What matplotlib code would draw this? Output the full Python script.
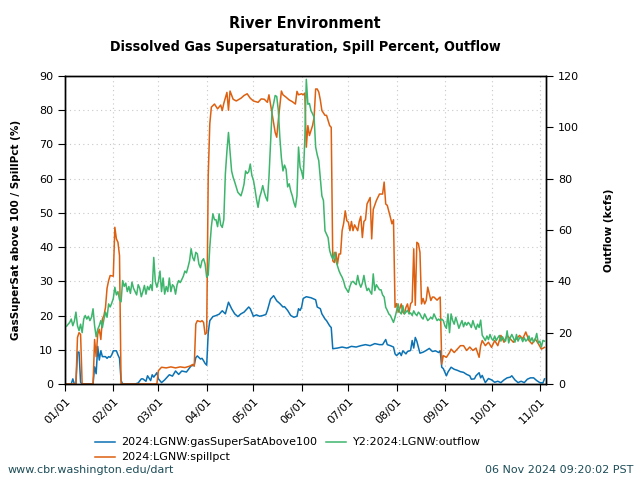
import numpy as np
import pandas as pd
import matplotlib
matplotlib.use('Agg')
import matplotlib.pyplot as plt
import matplotlib.dates as mdates

# days since 2024-01-01 and values
gas_days = [0, 4, 5, 6, 7, 8, 9, 10, 11, 18, 19, 20, 21, 22, 23, 24, 26, 27, 28, 29, 30, 31, 33, 34, 35, 36, 37, 45, 47, 49, 50,
            52, 53, 55, 56, 57, 59, 60, 62, 64, 67, 69, 71, 73, 75, 78, 81, 83, 84, 85, 87, 88, 89, 90, 91, 92, 93, 95, 97, 99,
            101, 103, 105, 107, 109, 111, 113, 115, 116, 118, 119, 121, 123, 125, 127, 129, 130, 132, 134, 136, 138, 140, 141,
            143, 145, 147, 149, 150, 151, 152, 153, 155, 158, 160, 161, 162, 164, 165, 167, 168, 170, 171, 172, 175, 178, 181,
            184, 187, 190, 193, 196, 199, 202, 204, 206, 207, 209, 211, 212, 213, 215, 216, 217, 219, 220, 222, 223, 224, 225,
            226, 228, 230, 232, 234, 236, 238, 240, 241, 242, 243, 245, 246, 248, 250, 252, 254, 256, 258, 260, 261, 263, 264,
            266, 267, 268, 270, 272, 274, 276, 278, 280, 282, 284, 286, 287, 289, 291, 293, 295, 297, 299, 301, 303, 305, 307, 308]
gas_vals = [0, 0, 1.5, 0, 0, 9.3, 9.3, 0.5, 0, 0, 5, 3, 11, 7, 9.7, 8, 8, 7.5, 8, 7.8, 8.5, 9.7, 9.7, 8.5, 7.5, 1, 0, 0, 0.3, 1.5, 1.5,
            0.8, 2.4, 1, 2.7, 2, 3.3, 1.5, 0.4, 1.2, 2.7, 2.3, 3.8, 2.8, 3.8, 3.5, 5.3, 5.5, 7.7, 8.2, 7.3, 7.5, 6.8, 6, 5.5, 15, 18.5, 19.7, 20, 20.4,
            21.4, 20.5, 23.9, 22, 20.5, 19.7, 20.5, 21, 21.5, 22.5, 22, 19.8, 20.2, 19.8, 20, 20.3, 21.5, 24.8, 25.8, 24.3, 23.5, 22.5, 22.6,
            21.5, 20, 19.5, 19.8, 22, 21.5, 22.5, 25, 25.5, 25.2, 24.8, 24.6, 22.5, 22, 20.5, 19, 18.5, 17, 16.5, 10.3, 10.5, 10.8, 10.5,
            11, 10.8, 11.2, 11.5, 11.2, 11.8, 11.5, 11.5, 13, 11.5, 11.2, 10.8, 8.8, 8.3, 9.2, 8.3, 9.7, 8.8, 9.5, 9.8, 12.7, 10.5, 13.6,
            12.5, 9, 9.3, 9.8, 10.4, 9.5, 9.7, 9.2, 9.7, 4.9, 4.5, 2.4, 3.5, 4.9, 4.3, 4, 3.6, 3.4, 2.8, 2.4, 1.4, 1.5, 2.4,
            3.3, 1.8, 2.5, 0.4, 1.6, 1.2, 0.5, 0.8, 0.4, 1.2, 1.8, 2, 2.4, 1.2, 0.4, 0.8, 0.4, 1.4, 1.8, 1.8, 1, 0.4, 0.3, 1.5]

spill_days = [0, 7, 8, 9, 10, 11, 18, 19, 20, 21, 22, 23, 24, 25, 26, 27, 28, 29, 31, 32, 33, 34, 35, 36, 59, 60, 62, 65, 68, 71, 74,
              77, 80, 82, 83, 84, 85, 87, 88, 89, 90, 91, 92, 93, 94, 96, 98, 100, 101, 102, 104, 105, 106, 108, 110, 113, 115, 117,
              119, 121, 124, 126, 128, 130, 131, 133, 135, 136, 137, 139, 140, 142, 144, 146, 148, 149, 150, 152, 153, 154, 155, 156,
              157, 158, 159, 160, 161, 162, 163, 164, 165, 167, 168, 169, 170, 171, 172, 173, 174, 175, 176, 177, 178, 179, 180, 181,
              182, 183, 184, 185, 186, 188, 189, 190, 191, 192, 193, 194, 196, 197, 198, 200, 202, 204, 205, 206, 207, 209, 210, 211,
              212, 213, 214, 215, 216, 217, 218, 219, 220, 221, 222, 223, 224, 225, 226, 227, 228, 229, 230, 231, 232, 233, 235, 236,
              237, 239, 240, 241, 242, 243, 245, 247, 248, 250, 252, 254, 256, 258, 260, 262, 264, 266, 267, 268, 270, 272, 274, 276,
              278, 280, 282, 284, 286, 288, 290, 292, 294, 296, 298, 300, 302, 304, 306, 308]
spill_vals = [0, 0, 13.6, 15, 14.5, 0, 0, 13, 8, 14.5, 16, 13, 19, 20, 22.4, 28, 30.2, 31.7, 31.5, 45.8, 42.4, 41.4, 37.5, 0, 0, 3.9, 4.9, 4.7, 5, 4.7, 5,
              4.8, 5.2, 5.7, 5.2, 17.5, 18.5, 18.2, 18.5, 18, 14.5, 15, 61, 76, 80.9, 81.8, 80.4, 81.5, 79.9, 82, 85.2, 80, 85.6, 83.2, 82.7, 83.5, 84.3, 84.8,
              83.5, 82.7, 82.3, 83.3, 83.2, 82.3, 84.5, 79, 73.5, 72.1, 77, 85.6, 84.5, 83.8, 83, 82.5, 81.8, 85.5, 84.5, 84.8, 84.5, 85, 69.2, 75.5,
              72.6, 74, 75.5, 77.9, 86.2, 86.2, 85.3, 83, 79.9, 78.5, 78.5, 77, 75.5, 75, 36, 35.5, 38.5, 35, 38, 38, 44.8, 47, 50.6, 47.7,
              47.3, 44.8, 47.5, 44.8, 46.5, 44.8, 47.5, 49, 42.8, 47.5, 48, 52.6, 54.5, 42.4, 51, 53.6, 55.5, 55.5, 59, 52.6, 52.2, 48.7, 46.8, 48,
              22.4, 23.5, 21, 22, 23.4, 21, 20.5, 22.4, 23.4, 20.8, 23.5, 24, 39.5, 23, 41.4, 41, 38.5, 23.4, 25, 23.4, 24.4, 28.3, 24.4, 25.4,
              25.4, 24.5, 25, 25.4, 5.8, 8.3, 7.8, 9.2, 10.2, 9.2, 10.2, 11.2, 11.2, 9.8, 10.8, 9.8, 10.5, 7.8, 11.2, 12.7, 11.2, 12.2, 10.7, 12.7,
              11.2, 14.2, 12.2, 14.2, 13.2, 12.2, 13.2, 14.2, 13.2, 15.2, 12.7, 11.7, 13.2, 11.8, 10.2, 10.7]

# outflow (kcfs), one value per day from 2024-01-01
outflow_kcfs = [22.3, 22.5, 23.3, 24.0, 25.3, 22.7, 24.5, 28.0, 22.7, 20.8, 23.3, 20.0, 25.3, 26.7, 25.3, 26.4, 24.7, 26.0, 29.3, 22.7,
                18.4, 21.3, 22.7, 24.7, 22.0, 25.3, 28.0, 26.0, 31.2, 30.0, 31.5, 33.3, 37.7, 34.7, 36.0, 32.8, 32.0, 40.3, 38.0, 39.3,
                36.0, 38.0, 35.3, 39.7, 37.3, 36.0, 34.7, 38.7, 37.3, 34.0, 36.0, 38.4, 35.0, 38.0, 36.7, 38.7, 36.4, 49.3, 40.0, 37.7,
                40.0, 44.0, 36.0, 41.3, 35.0, 38.0, 36.0, 41.3, 36.0, 38.7, 38.0, 35.0, 38.7, 40.3, 39.5, 40.7, 42.0, 44.0, 43.3, 45.5,
                48.0, 52.7, 49.3, 48.0, 51.3, 50.7, 46.7, 45.3, 48.0, 48.8, 46.7, 41.6, 42.5, 53.3, 61.3, 66.3, 64.0, 64.0, 61.3, 66.3,
                62.0, 61.0, 64.0, 81.9, 90.7, 98.0, 90.7, 83.0, 80.5, 78.7, 76.7, 74.7, 74.0, 73.3, 75.3, 77.9, 83.0, 82.0, 82.7, 85.7,
                81.3, 79.5, 76.0, 72.0, 68.8, 72.7, 74.7, 77.3, 74.7, 72.7, 71.3, 80.5, 93.3, 106.5, 109.3, 112.4, 112.0, 106.7, 96.0, 88.0,
                83.0, 85.3, 83.6, 76.8, 78.0, 75.2, 73.3, 70.7, 68.9, 73.3, 92.3, 84.5, 82.7, 80.0, 94.7, 118.7, 109.0, 109.3, 106.5, 105.3,
                103.9, 92.3, 89.3, 87.0, 80.0, 73.3, 71.5, 59.7, 58.4, 57.0, 52.0, 50.0, 48.7, 51.3, 48.0, 46.0, 44.1, 42.7, 41.6, 40.0,
                37.7, 36.7, 35.7, 38.0, 39.6, 40.0, 39.3, 38.7, 42.3, 39.3, 37.7, 39.3, 42.3, 38.7, 36.4, 37.3, 36.0, 35.0, 42.9, 36.4,
                38.7, 37.7, 36.7, 36.7, 34.7, 33.9, 29.9, 28.7, 27.3, 26.7, 25.3, 24.0, 26.0, 28.5, 31.2, 28.0, 27.3, 30.5, 27.3, 28.0,
                28.7, 27.3, 27.7, 26.7, 28.5, 27.3, 26.7, 28.0, 27.3, 26.0, 25.3, 27.3, 26.0, 24.7, 25.3, 26.0, 25.3, 27.3, 26.0, 24.7,
                25.3, 24.7, 25.3, 24.7, 22.7, 21.7, 27.3, 20.0, 27.3, 24.7, 23.3, 26.0, 24.0, 21.7, 23.3, 24.7, 22.3, 24.0, 22.9, 24.0,
                23.3, 22.0, 24.7, 22.7, 21.3, 23.3, 22.0, 24.9, 19.0, 18.0, 16.9, 18.7, 17.3, 19.3, 17.7, 17.0, 18.7, 16.9, 18.0, 18.9,
                16.7, 18.4, 17.3, 16.7, 20.7, 16.0, 18.0, 19.3, 18.0, 16.3, 19.3, 16.7, 18.0, 18.0, 16.5, 18.0, 16.7, 17.3, 18.7, 16.7,
                18.0, 16.3, 17.3, 19.7, 16.0, 16.7, 14.4, 17.0, 16.7]

start = pd.Timestamp('2024-01-01')
gas_dates = start + pd.to_timedelta(gas_days, unit='D')
spill_dates = start + pd.to_timedelta(spill_days, unit='D')
outflow_dates = start + pd.to_timedelta(np.arange(len(outflow_kcfs)), unit='D')

c_gas = '#0b72b4'
c_spill = '#dd6010'
c_flow = '#3db56c'

fig = plt.figure(figsize=(6.4, 4.8), dpi=100)
ax = fig.add_axes([0.1016, 0.2, 0.7516, 0.6417])
ax2 = ax.twinx()

l1, = ax.plot(gas_dates, gas_vals, color=c_gas, lw=1.1, label='2024:LGNW:gasSuperSatAbove100')
l2, = ax.plot(spill_dates, spill_vals, color=c_spill, lw=1.1, label='2024:LGNW:spillpct')
l3, = ax2.plot(outflow_dates, outflow_kcfs, color=c_flow, lw=1.1, label='Y2:2024:LGNW:outflow')

ax.set_xlim(start, start + pd.Timedelta(days=309))
ax.set_ylim(0, 90)
ax.set_yticks(np.arange(0, 91, 10))
ax2.set_ylim(0, 120)
ax2.set_yticks(np.arange(0, 121, 20))

ax.xaxis.set_major_locator(mdates.MonthLocator())
ax.xaxis.set_major_formatter(mdates.DateFormatter('%m/%d'))
for lab in ax.get_xticklabels():
    lab.set_rotation(45)
    lab.set_ha('right')
    lab.set_rotation_mode('anchor')

ax.grid(True, color='#c8c8c8', linestyle=(0, (1, 3)), linewidth=0.8)
ax.tick_params(labelsize=8, length=5, direction='out')
ax2.tick_params(labelsize=8, length=5, direction='out')
for a in (ax, ax2):
    for s in a.spines.values():
        s.set_color('black')
        s.set_linewidth(1.0)

ax.set_ylabel('GasSuperSat above 100 / SpillPct (%)', fontsize=7.5, fontweight='bold', labelpad=13)
ax2.set_ylabel('Outflow (kcfs)', fontsize=7.5, fontweight='bold', labelpad=18)

fig.text(0.477, 0.952, 'River Environment', ha='center', va='center', fontsize=11.5, fontweight='bold',
         fontstretch='condensed')
fig.text(0.477, 0.902, 'Dissolved Gas Supersaturation, Spill Percent, Outflow', ha='center', va='center',
         fontsize=10.3, fontweight='bold', fontstretch='condensed')

fig.legend([l1, l2, l3], [l1.get_label(), l2.get_label(), l3.get_label()], loc='upper center',
           bbox_to_anchor=(0.45, 0.098), ncol=2, frameon=False, fontsize=8, handlelength=1.8,
           labelspacing=0.45, columnspacing=0.8, handletextpad=0.6, borderaxespad=0)

fig.text(0.011, 0.02, 'www.cbr.washington.edu/dart', fontsize=8, color='#1d4d57', ha='left', va='center')
fig.text(0.989, 0.02, '06 Nov 2024 09:20:02 PST', fontsize=8, color='#1d4d57', ha='right', va='center')

fig.savefig('out.png', dpi=100)
